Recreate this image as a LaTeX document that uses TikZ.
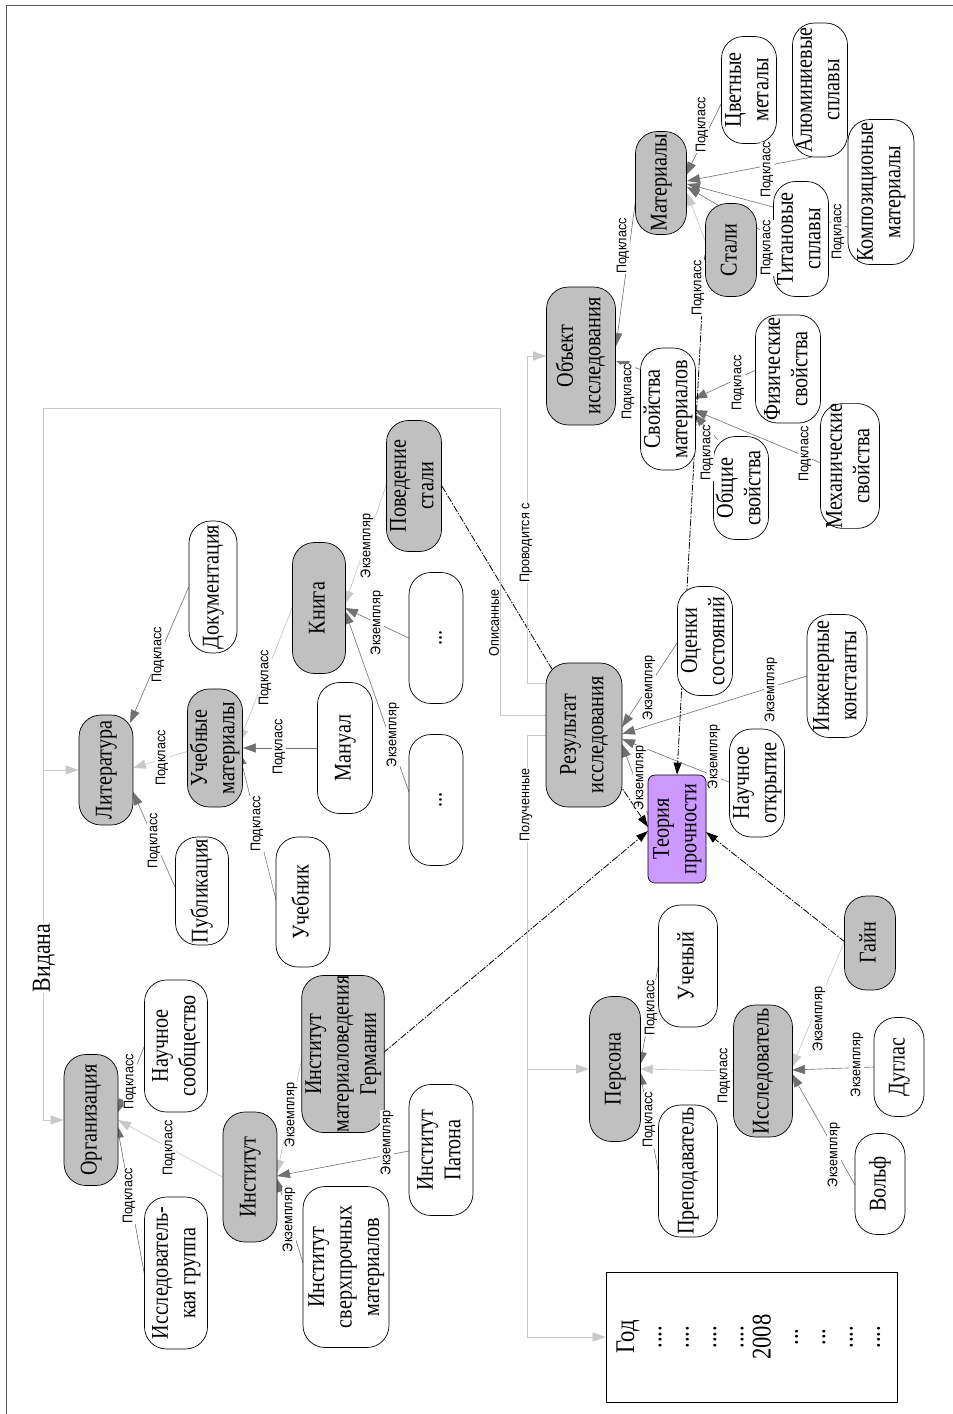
\documentclass[tikz,border=0pt]{standalone}
\usepackage{fontspec}
\usepackage{graphicx}
\setmainfont{Liberation Serif}[FakeStretch=0.84]
\newfontfamily\lblfont{Liberation Sans}[FakeStretch=0.9]
\usetikzlibrary{arrows.meta,backgrounds}
\definecolor{grayfill}{RGB}{192,192,192}
\definecolor{dkg}{RGB}{112,112,112}
\definecolor{ltg}{RGB}{200,200,200}
\definecolor{purp}{RGB}{204,153,255}
\definecolor{framec}{RGB}{90,90,90}
\newcommand\rt[1]{\rotatebox{90}{\begin{tabular}{@{}c@{}}#1\end{tabular}}}
\tikzset{
  nd/.style={draw=black, line width=0.7pt, rounded corners=22pt, inner sep=0pt, font=\fontsize{24}{27.5}\selectfont},
  gnode/.style={nd, fill=grayfill},
  wnode/.style={nd, fill=white},
  tnode/.style={nd, fill=purp, rounded corners=7pt},
  dk/.style={draw=dkg, line width=0.6pt, -{Triangle[length=13pt,width=9pt]}},
  lt/.style={draw=ltg, line width=0.7pt, -{Triangle[length=13pt,width=9pt]}},
  blk/.style={draw=black, line width=0.8pt, dash pattern=on 7pt off 1.5pt on 1.5pt off 1.5pt, -{Triangle[length=12pt,width=8pt]}},
  blkplain/.style={draw=black, line width=0.8pt, dash pattern=on 7pt off 1.5pt on 1.5pt off 1.5pt},
  lbl/.style={font=\lblfont\fontsize{14}{16}\selectfont, rotate=90, fill=white, inner sep=0.6pt},
  vlbl/.style={font=\fontsize{26}{28}\selectfont, rotate=90, fill=white, inner sep=1pt},
}
\begin{document}
\begin{tikzpicture}[x=1pt,y=-1pt]
\useasboundingbox (0,0) rectangle (953,1414);
\draw[framec, line width=1pt] (6,1414) -- (6,5) -- (953,5);

% ---------- nodes ----------
% materials
\node[gnode, minimum width=51, minimum height=103] (mat) at (661,183) {\rt{Материалы}};
\node[wnode, minimum width=52, minimum height=107] (cvet) at (749,90) {\rt{Цветные\\металы}};
\node[wnode, minimum width=55, minimum height=134] (alum) at (820,90) {\rt{Алюминиевые\\сплавы}};
\node[wnode, minimum width=66, minimum height=145] (komp) at (881,192) {\rt{Композиционые\\материалы}};
\node[gnode, minimum width=51, minimum height=93] (stali) at (731,250) {\rt{Стали}};
\node[wnode, minimum width=54, minimum height=115] (titan) at (801,239) {\rt{Титановые\\сплавы}};
\node[gnode, minimum width=69, minimum height=138] (obj) at (581,356) {\rt{Объект\\исследования}};
\node[wnode, minimum width=52, minimum height=122] (svm) at (668,409) {\rt{Свойства\\материалов}};
\node[wnode, minimum width=65, minimum height=108] (fiz) at (788,369) {\rt{Физические\\свойства}};
\node[wnode, minimum width=59, minimum height=123] (meh) at (850,466) {\rt{Механические\\свойства}};
\node[wnode, minimum width=52, minimum height=103] (obsh) at (741,488) {\rt{Общие\\свойства}};
% literature
\node[gnode, minimum width=54, minimum height=110] (lit) at (106,770) {\rt{Литература}};
\node[wnode, minimum width=48, minimum height=132] (doc) at (213,587) {\rt{Документация}};
\node[gnode, minimum width=48, minimum height=118] (uch) at (215,748) {\rt{Учебные\\материалы}};
\node[gnode, minimum width=53, minimum height=131] (kniga) at (319,608) {\rt{Книга}};
\node[gnode, minimum width=53, minimum height=131] (pov) at (414,486) {\rt{Поведение\\стали}};
\node[wnode, minimum width=54, minimum height=131] (dotsa) at (436,638) {\rt{...}};
\node[wnode, minimum width=54, minimum height=131] (dotsb) at (436,800) {\rt{...}};
\node[wnode, minimum width=55, minimum height=131] (man) at (345,748) {\rt{Мануал}};
\node[wnode, minimum width=53, minimum height=108] (pub) at (202,891) {\rt{Публикация}};
\node[wnode, minimum width=54, minimum height=130] (ucheb) at (303,902) {\rt{Учебник}};
% organisations
\node[gnode, minimum width=54, minimum height=131] (org) at (91,1120) {\rt{Организация}};
\node[wnode, minimum width=63, minimum height=132] (nso) at (176,1046) {\rt{Научное\\сообщество}};
\node[wnode, minimum width=63, minimum height=152] (igr) at (176,1273) {\rt{Исследователь-\\кая группа}};
\node[gnode, minimum width=54, minimum height=130] (inst) at (250,1177) {\rt{Институт}};
\node[gnode, minimum width=80, minimum height=157] (img) at (343,1054) {\rt{Институт\\материаловедения\\Германии}};
\node[wnode, minimum width=64, minimum height=131] (ipat) at (441,1150) {\rt{Институт\\Патона}};
\node[wnode, minimum width=86, minimum height=161] (isv) at (346,1267) {\rt{Институт\\сверхпрочных\\материалов}};
% results
\node[gnode, minimum width=76, minimum height=144] (res) at (584,735) {\rt{Результат\\исследования}};
\node[tnode, minimum width=58, minimum height=108] (teor) at (677,829) {\rt{Теория\\прочности}};
\node[wnode, minimum width=55, minimum height=109] (ocen) at (705,641) {\rt{Оценки\\состояний}};
\node[wnode, minimum width=60, minimum height=123] (ing) at (837,676) {\rt{Инженерные\\константы}};
\node[wnode, minimum width=55, minimum height=108] (nauk) at (757,783) {\rt{Научное\\открытие}};
\node[gnode, minimum width=51, minimum height=94] (gain) at (870,943) {\rt{Гайн}};
% persons
\node[wnode, minimum width=59, minimum height=122] (uchen) at (688,966) {\rt{Ученый}};
\node[gnode, minimum width=51, minimum height=145] (pers) at (615,1069) {\rt{Персона}};
\node[wnode, minimum width=59, minimum height=132] (prep) at (688,1171) {\rt{Преподаватель}};
\node[gnode, minimum width=59, minimum height=132] (issl) at (763,1071) {\rt{Исследователь}};
\node[wnode, minimum width=50, minimum height=99] (dug) at (899,1067) {\rt{Дуглас}};
\node[wnode, minimum width=50, minimum height=101] (volf) at (880,1184) {\rt{Вольф}};
% year box
\node[draw=black, line width=0.8pt, fill=white, inner sep=0pt, minimum width=291, minimum height=130, font=\fontsize{27}{27.3}\selectfont] (god) at (751.5,1337) {\rt{Год\\....\\....\\....\\....\\2008\\...\\...\\....\\....}};

\coordinate (vjoin) at (43,770);

% ---------- connectors ----------
\begin{scope}[on background layer]
% materials
\draw[dk] ([shift={(-26,10)}]cvet.center) -- ([shift={(25,-8)}]mat.center);
\draw[dk] ([shift={(-3,66)}]alum.center) -- ([shift={(26,-2)}]mat.center);
\draw[dk] ([shift={(-33,35)}]komp.center) -- ([shift={(26,1)}]mat.center);
\draw[dk] ([shift={(-27,-1)}]titan.center) -- ([shift={(26,4)}]mat.center);
\draw[lt] ([shift={(-25,-7)}]stali.center) -- ([shift={(26,10)}]mat.center);
\draw[dk] ([shift={(-25,14)}]mat.center) -- ([shift={(35,-10)}]obj.center);
\draw[dk] ([shift={(-26,-39)}]svm.center) -- ([shift={(35,5)}]obj.center);
\draw[dk] ([shift={(-32,1)}]fiz.center) -- ([shift={(26,-10)}]svm.center);
\draw[dk] ([shift={(-29,-3)}]meh.center) -- ([shift={(26,1)}]svm.center);
\draw[dk] ([shift={(-23,-48)}]obsh.center) -- ([shift={(26,5)}]svm.center);
% literature
\draw[dk] (doc.west) -- ([shift={(24,-47)}]lit.center);
\draw[lt] ([shift={(-23,2)}]uch.center) -- ([shift={(27,-2)}]lit.center);
\draw[dk] ([shift={(-27,-4)}]pub.center) -- ([shift={(27,22)}]lit.center);
\draw[lt] (kniga.west) -- ([shift={(24,-6)}]uch.center);
\draw[dk] (man.west) -- (uch.east);
\draw[dk] ([shift={(-27,-2)}]ucheb.center) -- ([shift={(24,4)}]uch.center);
\draw[lt] ([shift={(-26,-6)}]pov.center) -- ([shift={(26,-4)}]kniga.center);
\draw[dk] (dotsa.west) -- ([shift={(26,0)}]kniga.center);
\draw[dk] ([shift={(-27,-8)}]dotsb.center) -- ([shift={(26,3)}]kniga.center);
% organisations
\draw[dk] ([shift={(-32,1)}]nso.center) -- ([shift={(27,-8)}]org.center);
\draw[lt] (inst.west) -- ([shift={(27,0)}]org.center);
\draw[dk] (igr.west) -- ([shift={(26,5)}]org.center);
\draw[lt] ([shift={(-40,-1)}]img.center) -- ([shift={(27,-4)}]inst.center);
\draw[dk] ([shift={(-32,1)}]ipat.center) -- ([shift={(27,-1)}]inst.center);
\draw[dk] ([shift={(-43,-4)}]isv.center) -- ([shift={(27,2)}]inst.center);
% persons
\draw[dk] ([shift={(-30,1)}]uchen.center) -- ([shift={(25,-4)}]pers.center);
\draw[dk] ([shift={(-30,-1)}]prep.center) -- ([shift={(25,3)}]pers.center);
\draw[lt] (issl.west) -- ([shift={(25,0)}]pers.center);
\draw[lt] ([shift={(-25,-3)}]gain.center) -- ([shift={(29,-4)}]issl.center);
\draw[dk] (dug.west) -- ([shift={(29,-1)}]issl.center);
\draw[dk] ([shift={(-25,1)}]volf.center) -- ([shift={(29,3)}]issl.center);
% results
\draw[dk] ([shift={(-28,2)}]ocen.center) -- ([shift={(38,-8)}]res.center);
\draw[dk] (ing.west) -- ([shift={(38,-1)}]res.center);
\draw[dk] ([shift={(-28,-1)}]nauk.center) -- ([shift={(38,4)}]res.center);
\draw[dk] ([shift={(-29,-14)}]teor.center) -- ([shift={(38,9)}]res.center);
% black relations
\draw[blkplain] (pov.east) -- ([shift={(-29,-61)}]res.center);
\draw[blk] ([shift={(-26,5)}]stali.center) -- (teor.north);
\draw[blk] ([shift={(40,-1)}]img.center) -- ([shift={(-29,2)}]teor.center);
\draw[blk] ([shift={(-25,-1)}]gain.center) -- ([shift={(29,3)}]teor.center);
\draw[blk] ([shift={(34,47)}]res.center) -- ([shift={(-29,-2)}]teor.center);
% light gray buses
\draw[lt] ([shift={(-38,-20)}]res.center) -- (500,715) -- (500,408) -- (43,408) -- (vjoin) -- (lit.west);
\draw[lt] (vjoin) -- (43,1120) -- (org.west);
\draw[lt] ([shift={(-38,-52)}]res.center) -- (527,683) -- (527,356) -- (obj.west);
\draw[lt] (res.west) -- (527,735) -- (527,1337) -- (god.west);
\draw[lt] (527,1069) -- (pers.west);
\end{scope}

% ---------- connector labels ----------
\node[lbl] (l1) at (702,125) {Подкласс};
\node[lbl] (l2) at (767,170) {Подкласс};
\node[lbl] (l3) at (838,232) {Подкласс};
\node[lbl] (l4) at (767,248) {Подкласс};
\node[lbl] (l5) at (698,288) {Подкласс};
\node[lbl] (l6) at (623,246) {Подкласс};
\node[lbl] (l7) at (628,392) {Подкласс};
\node[lbl] (l8) at (738,383) {Подкласс};
\node[lbl] (l9) at (805,454) {Подкласс};
\node[lbl] (l10) at (707,453) {Подкласс};
\node[lbl] (l11) at (158,655) {Подкласс};
\node[lbl] (l12) at (162,758) {Подкласс};
\node[lbl] (l13) at (154,841) {Подкласс};
\node[lbl] (l14) at (265,678) {Подкласс};
\node[lbl] (l15) at (279,747) {Подкласс};
\node[lbl] (l16) at (257,824) {Подкласс};
\node[lbl] (l17) at (367,546) {Экземпляр};
\node[lbl] (l18) at (377,623) {Экземпляр};
\node[lbl] (l19) at (393,735) {Экземпляр};
\node[lbl] (l20) at (130,1082) {Подкласс};
\node[lbl] (l21) at (169,1148) {Подкласс};
\node[lbl] (l22) at (129,1196) {Подкласс};
\node[lbl] (l23) at (291,1115) {Экземпляр};
\node[lbl] (l24) at (387,1143) {Экземпляр};
\node[lbl] (l25) at (289,1220) {Экземпляр};
\node[lbl] (l26) at (651,1008) {Подкласс};
\node[lbl] (l27) at (649,1120) {Подкласс};
\node[lbl] (l28) at (724,1076) {Подкласс};
\node[lbl] (l29) at (819,1019) {Экземпляр};
\node[lbl] (l30) at (857,1065) {Экземпляр};
\node[lbl] (l31) at (834,1155) {Экземпляр};
\node[lbl] (l32) at (649,688) {Экземпляр};
\node[lbl] (l33) at (771,690) {Экземпляр};
\node[lbl] (l34) at (714,757) {Экземпляр};
\node[lbl] (l35) at (640,778) {Экземпляр};
\node[lbl] (l36) at (494,623) {Описанные};
\node[lbl] (l37) at (526,543) {Проводится с};
\node[lbl] (l38) at (526,805) {Полученные};
\node[vlbl] (l39) at (44,958) {Видана};
\end{tikzpicture}
\end{document}
